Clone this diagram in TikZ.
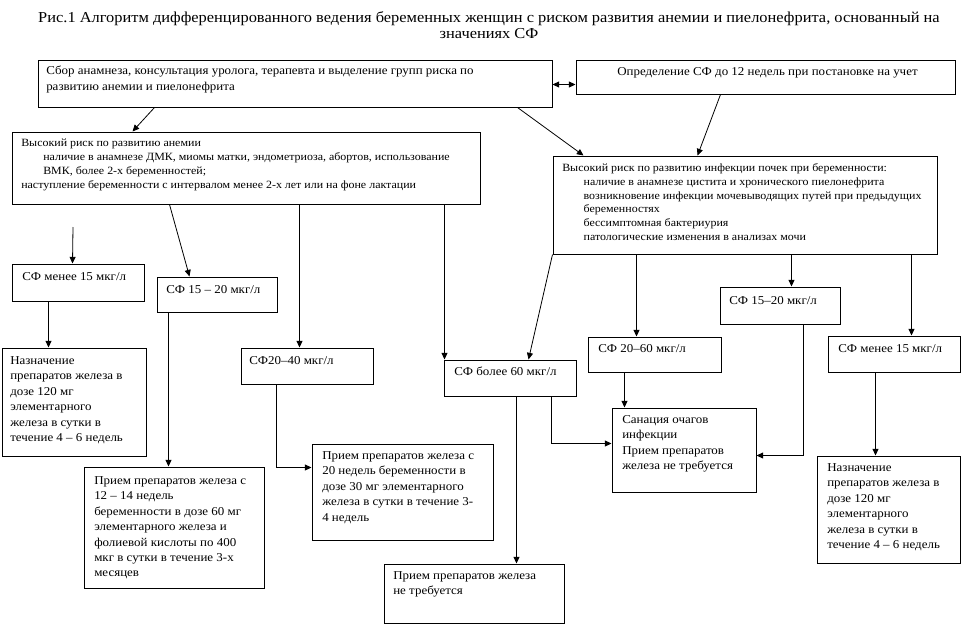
\documentclass[tikz,border=0pt]{standalone}
\usepackage{fontspec}
\setmainfont[FakeStretch=1.08]{Liberation Serif}
\usetikzlibrary{arrows.meta,fit,calc}
\begin{document}
\begin{tikzpicture}[x=0.75pt,y=-0.75pt,
  bx/.style={draw, line width=0.75pt, inner sep=0pt},
  tx/.style={anchor=north west, inner sep=0pt, align=left, font=\fontsize{9}{11.6}\selectfont},
  tsm/.style={anchor=north west, inner sep=0pt, align=left, font=\fontsize{8.3}{10.45}\selectfont},
  ttl/.style={anchor=north, inner sep=0pt, align=center, font=\fontsize{11.4}{12.4}\selectfont},
  arr/.style={-{Triangle[length=5pt,width=4.5pt]}, line width=0.6pt},
  dbl/.style={{Triangle[length=5pt,width=4.5pt]}-{Triangle[length=5pt,width=4.5pt]}, line width=0.6pt}]
\useasboundingbox (0,0) rectangle (973,625);

\node[ttl] (title) at (489,11) {Рис.1 Алгоритм дифференцированного ведения беременных женщин с риском развития анемии и пиелонефрита, основанный на\\значениях СФ};

% boxes
\node[bx, fit={(38,60)(552,107)}] (A) {};
\node[bx, fit={(576,60)(955,94)}] (B) {};
\node[bx, fit={(12,132)(480,204)}] (C) {};
\node[bx, fit={(553,156)(937,254)}] (H) {};
\node[bx, fit={(12,264)(144,301)}] (D) {};
\node[bx, fit={(157,277)(277,312)}] (E) {};
\node[bx, fit={(241,348)(373,384)}] (F) {};
\node[bx, fit={(444,360)(576,396)}] (G) {};
\node[bx, fit={(588,337)(721,372)}] (I) {};
\node[bx, fit={(720,287)(840,324)}] (J) {};
\node[bx, fit={(828,336)(960,372)}] (K) {};
\node[bx, fit={(2,348)(146,456)}] (Q) {};
\node[bx, fit={(84,467)(264,588)}] (P) {};
\node[bx, fit={(312,444)(493,540)}] (O) {};
\node[bx, fit={(384,564)(564,623)}] (N) {};
\node[bx, fit={(612,408)(756,492)}] (L) {};
\node[bx, fit={(817,456)(960,563)}] (M) {};

% texts
\node[tx] (At) at (46,66) {Сбор анамнеза, консультация уролога, терапевта и выделение групп риска по\\развитию анемии и пиелонефрита};
\node[tx] (Bt) at (617,67) {Определение СФ до 12 недель при постановке на учет};
\node[tsm] (Ct) at (21,139) {Высокий риск по развитию анемии\\
\hspace*{16.5pt}наличие в анамнезе ДМК, миомы матки, эндометриоза, абортов, использование\\
\hspace*{16.5pt}ВМК, более 2-х беременностей;\\
наступление беременности с интервалом менее 2-х лет или на фоне лактации};
\node[tsm] (Ht) at (562,163) {Высокий риск по развитию инфекции почек при беременности:\\
\hspace*{16pt}наличие в анамнезе цистита и хронического пиелонефрита\\
\hspace*{16pt}возникновение инфекции мочевыводящих путей при предыдущих\\
\hspace*{16pt}беременностях\\
\hspace*{16pt}бессимптомная бактериурия\\
\hspace*{16pt}патологические изменения в анализах мочи};
\node[tx] (Dt) at (22,272) {СФ менее 15 мкг/л};
\node[tx] (Et) at (166,285) {СФ 15 – 20 мкг/л};
\node[tx] (Ft) at (249,356) {СФ20–40 мкг/л};
\node[tx] (Gt) at (454,367) {СФ более 60 мкг/л};
\node[tx] (It) at (598,344) {СФ 20–60 мкг/л};
\node[tx] (Jt) at (729,296) {СФ 15–20 мкг/л};
\node[tx] (Kt) at (838,344) {СФ менее 15 мкг/л};
\node[tx] (Qt) at (10,356) {Назначение\\препаратов железа в\\дозе 120 мг\\элементарного\\железа в сутки в\\течение 4 – 6 недель};
\node[tx] (Pt) at (94,476) {Прием препаратов железа с\\12 – 14 недель\\беременности в дозе 60 мг\\элементарного железа и\\фолиевой кислоты по 400\\мкг в сутки в течение 3-х\\месяцев};
\node[tx] (Ot) at (322,451) {Прием препаратов железа с\\20 недель беременности в\\дозе 30 мг элементарного\\железа в сутки в течение 3-\\4 недель};
\node[tx] (Nt) at (393,571) {Прием препаратов железа\\не требуется};
\node[tx] (Lt) at (622,415) {Санация очагов\\инфекции\\Прием препаратов\\железа не требуется};
\node[tx] (Mt) at (827,463) {Назначение\\препаратов железа в\\дозе 120 мг\\элементарного\\железа в сутки в\\течение 4 – 6 недель};

% connectors
\draw[arr] ($(A.south west)+(117,0)$) -- ($(C.north west)+(121,0)$);
\draw[arr] ($(A.south west)+(480,0)$) -- ($(H.north west)+(31,0)$);
\draw[arr] ($(B.south west)+(145,0)$) -- ($(H.north west)+(145,0)$);
\draw[dbl] ($(A.north east)+(0,25)$) -- ($(B.north west)+(0,25)$);
\coordinate (free) at (73,227);
\draw[arr] (free) -- ($(D.north west)+(61,0)$);
\draw[arr] ($(C.south west)+(158,0)$) -- ($(E.north west)+(33,0)$);
\draw[arr] ($(C.south west)+(288,0)$) -- ($(F.north west)+(59,0)$);
\draw[arr] ($(C.south west)+(433,0)$) -- ($(G.north west)+(1,0)$);
\draw[arr] (H.south west) -- ($(G.north west)+(85,0)$);
\draw[arr] ($(H.south west)+(84,0)$) -- ($(I.north west)+(49,0)$);
\draw[arr] ($(H.south west)+(239,0)$) -- ($(J.north west)+(72,0)$);
\draw[arr] ($(H.south west)+(359,0)$) -- ($(K.north west)+(84,0)$);
\draw[arr] ($(D.south west)+(37,0)$) -- ($(Q.north west)+(47,0)$);
\draw[arr] ($(E.south west)+(12,0)$) -- ($(P.north west)+(85,0)$);
\draw[arr] ($(F.south west)+(36,0)$) |- ($(O.north west)+(0,24)$);
\draw[arr] ($(G.south west)+(73,0)$) -- ($(N.north west)+(133,0)$);
\draw[arr] ($(G.south west)+(108,0)$) |- ($(L.north west)+(0,36)$);
\draw[arr] ($(I.south west)+(37,0)$) -- ($(L.north west)+(13,0)$);
\draw[arr] ($(J.south west)+(84,0)$) |- ($(L.north east)+(0,48)$);
\draw[arr] ($(K.south west)+(48,0)$) -- ($(M.north west)+(59,0)$);
\end{tikzpicture}
\end{document}
